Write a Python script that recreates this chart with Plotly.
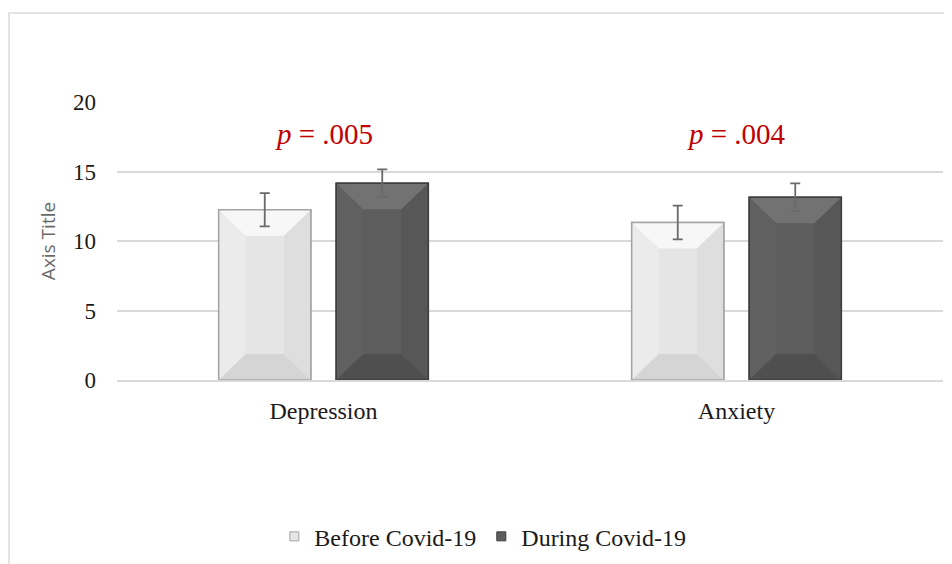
import plotly.graph_objects as go

categories = ["Depression", "Anxiety"]
before_vals = [12.25, 11.33]
before_err = [1.2, 1.22]
during_vals = [14.15, 13.15]
during_err = [1.0, 1.0]
p_labels = ["<i>p</i> = .005", "<i>p</i> = .004"]
series_names = ["Before Covid-19", "During Covid-19"]
y_ticks = [0, 5, 10, 15, 20]

serif = "Liberation Serif, Times New Roman, serif"
BARGAP, GROUPGAP = 0.431, 0.216
W, H = 944, 556
ML, MR, MT, MB = 109, 9, 94, 184
XR, YR = [-0.5, 1.5], [0, 20]

styles = [
    dict(base="#E5E5E5", top="#F7F7F7", bottom="#D5D5D5", left="#EBEBEB", right="#DEDEDE", border="#A4A4A4"),
    dict(base="#5D5D5D", top="#727272", bottom="#4F4F4F", left="#606060", right="#575757", border="#3E3E3E"),
]
series = [(before_vals, before_err), (during_vals, during_err)]

xpos = list(range(len(categories)))
n = len(series)
slot = (1 - BARGAP) / n
bw = slot * (1 - GROUPGAP)
px_x = (W - ML - MR) / (XR[1] - XR[0])
px_y = (H - MT - MB) / (YR[1] - YR[0])
dx = 27 / px_x
dy = 26 / px_y

fig = go.Figure()
for i, ((vals, errs), st, name) in enumerate(zip(series, styles, series_names)):
    fig.add_trace(go.Bar(
        x=xpos, y=vals, name=name, showlegend=False,
        marker=dict(color=st["base"], line=dict(color=st["border"], width=1.5)),
    ))

# bevel faces, outline and error bars (computed from data + bar layout)
for i, ((vals, errs), st) in enumerate(zip(series, styles)):
    off = -(1 - BARGAP) / 2 + slot * (i + 0.5)
    centers = [x + off for x in xpos]
    faces = {"top": ([], []), "bottom": ([], []), "left": ([], []), "right": ([], [])}
    ox, oy = [], []
    for c, v in zip(centers, vals):
        L, R, T = c - bw / 2, c + bw / 2, v
        polys = {
            "top": [(L, T), (R, T), (R - dx, T - dy), (L + dx, T - dy)],
            "bottom": [(L, 0), (R, 0), (R - dx, dy), (L + dx, dy)],
            "left": [(L, 0), (L, T), (L + dx, T - dy), (L + dx, dy)],
            "right": [(R, 0), (R, T), (R - dx, T - dy), (R - dx, dy)],
        }
        for k, pts in polys.items():
            xs, ys = faces[k]
            xs += [p[0] for p in pts] + [pts[0][0], None]
            ys += [p[1] for p in pts] + [pts[0][1], None]
        ox += [L, R, R, L, L, None]
        oy += [0, 0, T, T, 0, None]
    for k in ["left", "right", "bottom", "top"]:
        xs, ys = faces[k]
        fig.add_trace(go.Scatter(x=xs, y=ys, mode="lines", fill="toself",
                                 fillcolor=st[k], line=dict(width=0),
                                 showlegend=False, hoverinfo="skip"))
    fig.add_trace(go.Scatter(x=ox, y=oy, mode="lines",
                             line=dict(color=st["border"], width=1.5),
                             showlegend=False, hoverinfo="skip"))
    fig.add_trace(go.Scatter(x=centers, y=vals, mode="markers",
                             marker=dict(size=1, opacity=0),
                             error_y=dict(type="data", array=errs, color="#6A6A6A",
                                          thickness=1.8, width=5),
                             showlegend=False, hoverinfo="skip"))

# legend entries (small square swatches)
for st, name in zip(styles, series_names):
    fig.add_trace(go.Scatter(x=[None], y=[None], mode="markers", name=name,
                             marker=dict(symbol="square", size=9, color=st["base"],
                                         line=dict(color=st["border"], width=1)),
                             showlegend=True))

for x, lab in zip(xpos, p_labels):
    fig.add_annotation(x=x, y=17.7, text=lab, showarrow=False,
                       font=dict(family=serif, size=29, color="#C00000"),
                       xref="x", yref="y")

fig.update_layout(
    width=W, height=H,
    paper_bgcolor="white", plot_bgcolor="white",
    margin=dict(l=ML, r=MR, t=MT, b=MB),
    barmode="group", bargap=BARGAP, bargroupgap=GROUPGAP,
    showlegend=True,
    legend=dict(orientation="h", xref="container", yref="container",
                x=0.503, y=0.049, xanchor="center", yanchor="middle",
                font=dict(family=serif, size=24, color="#1A1A1A"),
                itemwidth=30, traceorder="normal"),
    shapes=[dict(type="rect", xref="paper", yref="paper",
                 x0=(1 - ML) / (W - ML - MR), x1=1.05,
                 y0=-1.0, y1=1 + (MT - 5) / (H - MT - MB),
                 line=dict(color="#DADADA", width=1.5), fillcolor="rgba(0,0,0,0)",
                 layer="below")],
)
fig.update_yaxes(range=YR, tickvals=y_ticks, showgrid=True, gridcolor="#D9D9D9",
                 gridwidth=1.5, zeroline=False, showline=False,
                 tickfont=dict(family=serif, size=23, color="#1A1A1A"),
                 ticks="", ticklabelstandoff=20,
                 title=dict(text="Axis Title", standoff=12,
                            font=dict(family="Open Sans, Arial, sans-serif", size=19, color="#6A6A6A")))
fig.update_xaxes(range=XR, tickvals=xpos, ticktext=categories, showgrid=False,
                 zeroline=False,
                 showline=True, linecolor="#D9D9D9", linewidth=1.5, ticks="",
                 tickfont=dict(family=serif, size=24, color="#1A1A1A"),
                 ticklabelstandoff=8)

fig.write_html("out.html")
